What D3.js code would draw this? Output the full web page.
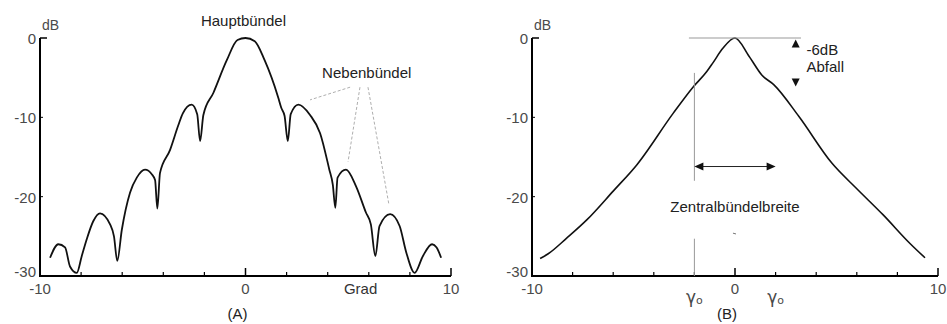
<!DOCTYPE html>
<html><head><meta charset="utf-8">
<script src="https://cdn.jsdelivr.net/npm/d3@7"></script>
<style>
body{margin:0;background:#fff;}
svg{display:block;font-family:"Liberation Sans",Arial,sans-serif;}
</style></head>
<body><svg id="c" width="947" height="324"></svg>
<script>
// ---- data ----
const angleA = [-9.51,-9.11,-8.78,-8.54,-8.21,-7.97,-7.73,-7.41,-7.08,-6.59,-6.4,-6.24,-6.02,-5.62,-5.29,-4.89,-4.55,-4.4,-4.29,-4.16,-3.67,-3.27,-3.05,-2.62,-2.35,-2.21,-2.05,-1.56,-0.91,-0.39,0,0.45,0.93,1.58,1.74,1.9,2.06,2.2,2.57,3.14,3.63,4.08,4.25,4.37,4.48,4.89,5.38,5.86,6.1,6.32,6.52,7.04,7.5,7.82,8.23,8.63,9.08,9.3,9.52];
const dbA    = [-27.7,-26.0,-26.4,-28.8,-29.6,-27.5,-25.4,-23.1,-22.1,-23.5,-25.0,-28.1,-24.2,-19.5,-17.6,-16.6,-17.2,-17.9,-21.5,-17.0,-14.1,-11.0,-9.5,-8.4,-9.6,-13.0,-9.7,-6.9,-2.8,-0.25,0,-0.4,-2.8,-7.4,-8.8,-9.8,-13.0,-9.6,-8.4,-9.7,-12.0,-16.6,-18.5,-21.4,-17.6,-16.6,-18.7,-22.0,-23.5,-27.5,-23.7,-22.2,-23.7,-27.0,-29.6,-27.5,-26.0,-26.4,-27.7];
const angleB = [-9.6,-9.2,-8.28,-7.29,-6.0,-4.84,-3.04,-2.07,-1.38,-1.08,-0.6,0,0.69,1.33,1.92,3.15,4.78,6.0,7.3,8.62,9.36];
const dbB    = [-27.8,-27.2,-25.2,-22.9,-19.3,-16.0,-9.47,-6.2,-4.2,-3.1,-1.3,0,-2.3,-4.7,-5.9,-9.9,-15.8,-19.0,-22.3,-25.9,-27.7];
const yTicks = [0,-10,-20,-30];
const xLabelTicks = [-10,0,10];
const xMinorTicks = [-8,-6,-4,-2,2,4,6,8];
const gamma0 = 2;

const svg = d3.select("#c");
const yS = d3.scaleLinear().domain([0,-30]).range([38,276]);
const xA = d3.scaleLinear().domain([-10,10]).range([40,451]);
const xB = d3.scaleLinear().domain([-10,10]).range([532,938]);
const tickFill = "#4a4a4a";

function frame(x, label){
  const g = svg.append("g");
  g.append("line").attr("x1",x(-10)).attr("x2",x(-10)).attr("y1",yS(0)).attr("y2",yS(-30)+1).attr("stroke","#000").attr("stroke-width",2);
  g.append("line").attr("x1",x(-10)).attr("x2",x(10)).attr("y1",yS(-30)).attr("y2",yS(-30)).attr("stroke","#000").attr("stroke-width",2);
  g.append("line").attr("x1",x(-10)).attr("x2",x(-10)+7).attr("y1",yS(0)).attr("y2",yS(0)).attr("stroke","#000").attr("stroke-width",1.5);
  yTicks.slice(1,3).forEach(t=>{
    g.append("line").attr("x1",x(-10)).attr("x2",x(-10)+3).attr("y1",yS(t)).attr("y2",yS(t)).attr("stroke","#000").attr("stroke-width",1);
  });
  yTicks.forEach(t=>{
    g.append("text").attr("x",x(-10)-4).attr("y",yS(t)+(t===-30?1:6)).attr("text-anchor","end")
     .attr("font-size",15).attr("fill",tickFill).text(t);
  });
  g.append("text").attr("x",x(-10)+2).attr("y",yS(0)-8).attr("font-size",14).attr("fill",tickFill).text("dB");
  xMinorTicks.forEach(t=>{
    g.append("line").attr("x1",x(t)).attr("x2",x(t)).attr("y1",yS(-30)).attr("y2",yS(-30)-4).attr("stroke","#000").attr("stroke-width",1.2);
  });
  [0,10].forEach(t=>{
    g.append("line").attr("x1",x(t)).attr("x2",x(t)).attr("y1",yS(-30)).attr("y2",yS(-30)-8).attr("stroke","#000").attr("stroke-width",1.5);
  });
  xLabelTicks.forEach(t=>{
    g.append("text").attr("x",x(t)).attr("y",yS(-30)+18).attr("text-anchor","middle")
     .attr("font-size",15).attr("fill",tickFill).text(t);
  });
  g.append("text").attr("x",(x(-10)+x(10))/2 - 8).attr("y",319).attr("text-anchor","middle")
   .attr("font-size",15).attr("fill","#222").text(label);
}
frame(xA,"(A)");
frame(xB,"(B)");

const lineA = d3.line().x(d=>xA(d[0])).y(d=>yS(d[1])).curve(d3.curveMonotoneX);
svg.append("path").datum(d3.zip(angleA,dbA)).attr("d",lineA).attr("fill","none").attr("stroke","#111").attr("stroke-width",1.8);
const lineB = d3.line().x(d=>xB(d[0])).y(d=>yS(d[1])).curve(d3.curveMonotoneX);
svg.append("path").datum(d3.zip(angleB,dbB)).attr("d",lineB).attr("fill","none").attr("stroke","#111").attr("stroke-width",1.6);

// annotations A
svg.append("text").attr("x",xA(-0.1)).attr("y",26).attr("text-anchor","middle").attr("font-size",15).attr("fill","#222").text("Hauptbündel");
svg.append("text").attr("x",xA(5.9)).attr("y",78).attr("text-anchor","middle").attr("font-size",15).attr("fill","#222").text("Nebenbündel");
const leaders = [[5.09,3.14,-7.8],[5.57,4.99,-15.6],[5.96,6.98,-21.0]];
leaders.forEach(l=>{
  svg.append("line").attr("x1",xA(l[0])).attr("y1",yS(-6.2)).attr("x2",xA(l[1])).attr("y2",yS(l[2]))
   .attr("stroke","#999").attr("stroke-width",0.8).attr("stroke-dasharray","3,2");
});
svg.append("text").attr("x",xA(5.6)).attr("y",yS(-30)+18).attr("text-anchor","middle").attr("font-size",15).attr("fill","#333").text("Grad");

// annotations B
const grey = "#999";
svg.append("line").attr("x1",xB(-2.27)).attr("x2",xB(3.25)).attr("y1",yS(0)).attr("y2",yS(0)).attr("stroke",grey).attr("stroke-width",1);
svg.append("line").attr("x1",xB(-gamma0)).attr("x2",xB(-gamma0)).attr("y1",yS(-4.4)).attr("y2",yS(-18)).attr("stroke",grey).attr("stroke-width",1);
svg.append("line").attr("x1",xB(-gamma0)).attr("x2",xB(-gamma0)).attr("y1",yS(-25.3)).attr("y2",yS(-30)).attr("stroke",grey).attr("stroke-width",1);
const ay = yS(-16.2);
svg.append("line").attr("x1",xB(-gamma0)+4).attr("x2",xB(gamma0)-4).attr("y1",ay).attr("y2",ay).attr("stroke","#222").attr("stroke-width",1);
function tri(x,y,dir){
  let p;
  if(dir==='l') p=[[x,y],[x+9,y-4],[x+9,y+4]];
  if(dir==='r') p=[[x,y],[x-9,y-4],[x-9,y+4]];
  if(dir==='u') p=[[x,y],[x-4,y+8],[x+4,y+8]];
  if(dir==='d') p=[[x,y],[x-4,y-8],[x+4,y-8]];
  svg.append("polygon").attr("points",p.map(q=>q.join(",")).join(" ")).attr("fill","#111");
}
tri(xB(-gamma0),ay,'l');
tri(xB(gamma0),ay,'r');
tri(xB(2.99),yS(-0.2),'u');
tri(xB(2.99),yS(-6.1),'d');
svg.append("text").attr("x",xB(3.52)).attr("y",55).attr("font-size",15).attr("fill","#222").text("-6dB");
svg.append("text").attr("x",xB(3.52)).attr("y",72).attr("font-size",15).attr("fill","#222").text("Abfall");
svg.append("text").attr("x",xB(0)).attr("y",yS(-21.9)).attr("text-anchor","middle").attr("font-size",15).attr("fill","#222").text("Zentralbündelbreite");
svg.append("line").attr("x1",xB(-0.1)).attr("x2",xB(0.05)).attr("y1",yS(-24.6)).attr("y2",yS(-24.7)).attr("stroke","#777").attr("stroke-width",1);
[-gamma0,gamma0].forEach(g=>{
  svg.append("text").attr("x",xB(g)).attr("y",303).attr("text-anchor","middle").attr("font-size",17).attr("fill",tickFill)
   .attr("font-family","'DejaVu Sans',sans-serif").text("γ").append("tspan").attr("font-size",11).attr("dy",1).text("o");
});
</script></body></html>
